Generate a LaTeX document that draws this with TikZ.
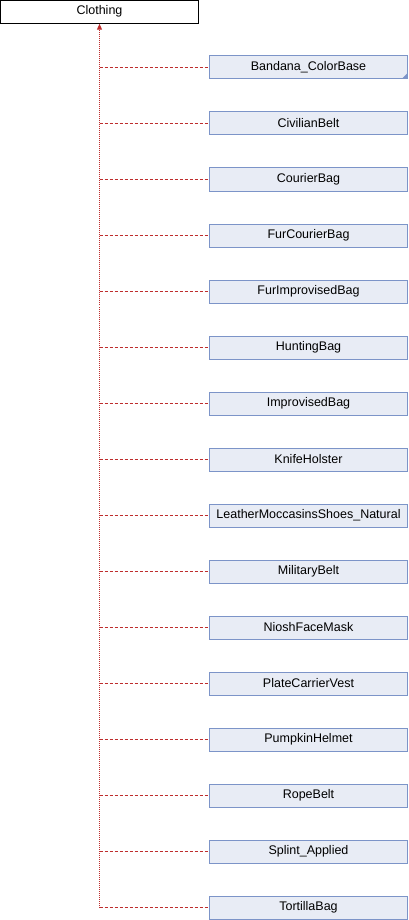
\documentclass[tikz,border=0pt]{standalone}
\usepackage{fontspec}
\setmainfont{Liberation Sans}
\usetikzlibrary{arrows.meta}
\definecolor{boxfill}{RGB}{232,236,245}
\definecolor{boxline}{RGB}{124,148,200}
\definecolor{edgecol}{RGB}{190,45,45}
\tikzset{
  basebox/.style={draw=black, fill=white, line width=1pt, minimum width=198pt, minimum height=23pt, inner sep=0pt, font=\fontsize{12.5}{14}\selectfont},
  childbox/.style={draw=boxline, fill=boxfill, line width=1pt, minimum width=198pt, minimum height=23pt, inner sep=0pt, font=\fontsize{12.5}{14}\selectfont},
  hedge/.style={draw=edgecol, line width=1pt, dash pattern=on 3pt off 2pt},
  vedge/.style={draw=edgecol, line width=1pt, dash pattern=on 1pt off 1pt},
  marker/.style={fill=boxline, draw=none}
}
\begin{document}
\begin{tikzpicture}[x=1pt,y=-1pt]
\useasboundingbox (0,0) rectangle (408,920);
\node[basebox] (base) at (99.5,11.75) {Clothing};
\foreach \name [count=\i from 0] in {Bandana\_ColorBase,CivilianBelt,CourierBag,FurCourierBag,FurImprovisedBag,HuntingBag,ImprovisedBag,KnifeHolster,LeatherMoccasinsShoes\_Natural,MilitaryBelt,NioshFaceMask,PlateCarrierVest,PumpkinHelmet,RopeBelt,Splint\_Applied,TortillaBag}{
  \node[childbox] (c\i) at (308.5,{67.5+56*\i}) {\name};
  \coordinate (j\i) at (99.5,{67.5+56*\i});
  \draw[hedge] (j\i) -- (c\i.west);
}
\fill[marker] ([xshift=-0.5pt,yshift=0.5pt]c0.south east) -- ++(0,-6) -- ++(-6,6) -- cycle;
\draw[vedge, -{Triangle[length=6pt,width=5pt,fill=edgecol]}] (j15) -- (j15 |- base.south);
\end{tikzpicture}
\end{document}
